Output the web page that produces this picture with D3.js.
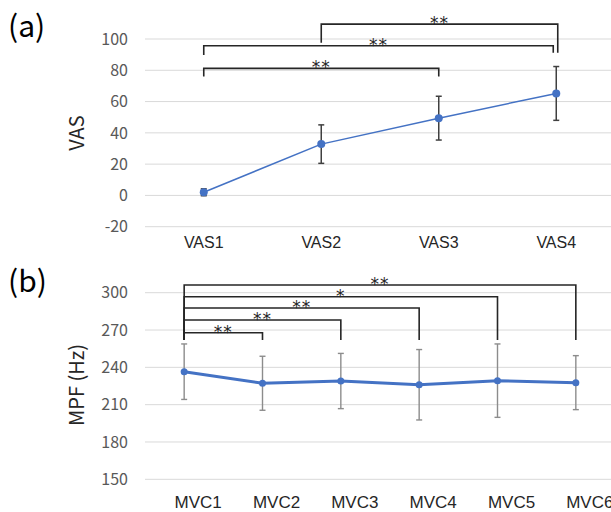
<!DOCTYPE html>
<html lang="ja">
<head>
  <meta charset="UTF-8">
  <title>VAS / MPF</title>
  <script src="https://cdn.jsdelivr.net/npm/d3@7"></script>
  <style>
    html, body { margin: 0; padding: 0; background: #fff; }
    svg { display: block; }
    .tick-label { font-family: "Noto Sans CJK JP", "Noto Sans", sans-serif; font-size: 16px; fill: #595959; }
    .cat-label { font-family: "Liberation Sans", Arial, sans-serif; fill: #262626; }
    .axis-title { font-family: "Noto Sans CJK JP", "Noto Sans", sans-serif; font-size: 20px; fill: #262626; }
    .panel-label { font-family: "Noto Sans CJK JP", "Noto Sans", sans-serif; font-size: 30px; fill: #000; }
    .sig { font-family: "DejaVu Sans", sans-serif; font-size: 17px; fill: #262626; letter-spacing: 1px; }
  </style>
</head>
<body>
<div id="chart"></div>
<script>
  // (a) VAS
  const vasCats = ['VAS1', 'VAS2', 'VAS3', 'VAS4']
  const vasMean = [2, 32.8, 49.4, 65.2]
  const vasSd = [2.2, 12.3, 14, 17.2]
  const vasTicks = [-20, 0, 20, 40, 60, 80, 100]
  // brackets: from / to category index, bar level, leg ends (VAS units), label
  const vasSigFrom = [0, 0, 1]
  const vasSigTo = [2, 3, 3]
  const vasSigLevel = [81.2, 95.7, 109.5]
  const vasSigLegL = [76, 89.7, 97.6]
  const vasSigLegR = [76, 91.2, 91.2]
  const vasSigLabel = ['**', '**', '**']

  // (b) MPF
  const mvcCats = ['MVC1', 'MVC2', 'MVC3', 'MVC4', 'MVC5', 'MVC6']
  const mvcMean = [236.5, 227.2, 229, 226, 229.3, 227.7]
  const mvcSd = [22.3, 21.7, 22.2, 28.3, 29.5, 21.7]
  const mvcTicks = [150, 180, 210, 240, 270, 300]
  const mvcSigFrom = [0, 0, 0, 0, 0]
  const mvcSigTo = [1, 2, 3, 4, 5]
  const mvcSigLevel = [267.8, 278, 287.7, 296.8, 306.2]
  const mvcSigLeg = 262
  const mvcSigLabel = ['**', '**', '**', '*', '**']

  const width = 611, height = 512
  const svg = d3.select('#chart').append('svg')
    .attr('width', width).attr('height', height)

  function panel (opt) {
    const x = d3.scaleBand().domain(opt.cats).range([145, 615]).padding(0)
    const cx = d => x(d) + x.bandwidth() / 2
    const y = d3.scaleLinear().domain(opt.domain).range(opt.range)
    const g = svg.append('g')

    // grid lines
    g.selectAll('.grid').data(opt.ticks).enter().append('line')
      .attr('x1', 145).attr('x2', width)
      .attr('y1', d => y(d)).attr('y2', d => y(d))
      .attr('stroke', '#d9d9d9').attr('stroke-width', 1)

    // y tick labels
    g.selectAll('.tick-label').data(opt.ticks).enter().append('text')
      .attr('class', 'tick-label')
      .attr('x', 128).attr('y', d => y(d)).attr('dy', '0.36em')
      .attr('text-anchor', 'end')
      .text(d => d)

    // x labels
    g.selectAll('.cat-label').data(opt.cats).enter().append('text')
      .attr('class', 'cat-label')
      .attr('x', d => cx(d) + opt.labelDx).attr('y', opt.labelY)
      .attr('text-anchor', 'middle')
      .style('font-size', opt.labelSize + 'px')
      .text(d => d)

    // axis title
    g.append('text').attr('class', 'axis-title')
      .attr('transform', 'translate(' + (opt.titleX) + ',' + opt.titleY + ') rotate(-90)')
      .attr('text-anchor', 'middle').attr('dy', '0.35em')
      .text(opt.title)

    // panel letter
    g.append('text').attr('class', 'panel-label')
      .attr('x', 8).attr('y', opt.panelY)
      .text(opt.panel)

    // error bars
    const eb = g.selectAll('.err').data(opt.cats).enter().append('g')
    eb.append('line')
      .attr('x1', d => cx(d)).attr('x2', d => cx(d))
      .attr('y1', (d, i) => y(opt.mean[i] - opt.sd[i]))
      .attr('y2', (d, i) => y(opt.mean[i] + opt.sd[i]))
      .attr('stroke', opt.errColor).attr('stroke-width', opt.errWidth)
    eb.append('line')
      .attr('x1', d => cx(d) - 3).attr('x2', d => cx(d) + 3)
      .attr('y1', (d, i) => y(opt.mean[i] + opt.sd[i]))
      .attr('y2', (d, i) => y(opt.mean[i] + opt.sd[i]))
      .attr('stroke', opt.errColor).attr('stroke-width', opt.errWidth)
    eb.append('line')
      .attr('x1', d => cx(d) - 3).attr('x2', d => cx(d) + 3)
      .attr('y1', (d, i) => y(opt.mean[i] - opt.sd[i]))
      .attr('y2', (d, i) => y(opt.mean[i] - opt.sd[i]))
      .attr('stroke', opt.errColor).attr('stroke-width', opt.errWidth)

    // line + markers
    const line = d3.line().x(d => cx(d[0])).y(d => y(d[1]))
    g.append('path')
      .datum(opt.cats.map((c, i) => [c, opt.mean[i]]))
      .attr('d', line)
      .attr('fill', 'none').attr('stroke', '#4472c4')
      .attr('stroke-width', opt.lineWidth).attr('stroke-linejoin', 'round')
    g.selectAll('.pt').data(opt.cats).enter().append('circle')
      .attr('cx', d => cx(d)).attr('cy', (d, i) => y(opt.mean[i]))
      .attr('r', opt.r).attr('fill', '#4472c4')

    // significance brackets
    opt.sigFrom.forEach((f, i) => {
      const x1 = cx(opt.cats[f])
      const x2 = cx(opt.cats[opt.sigTo[i]]) + (opt.nudge ? opt.nudge[i] : 0)
      const yl = y(opt.sigLevel[i])
      const path = d3.path()
      path.moveTo(x1, y(opt.sigLegL[i]))
      path.lineTo(x1, yl)
      path.lineTo(x2, yl)
      path.lineTo(x2, y(opt.sigLegR[i]))
      g.append('path').attr('d', path.toString())
        .attr('fill', 'none').attr('stroke', '#262626').attr('stroke-width', 1.6)
      g.append('text').attr('class', 'sig')
        .attr('x', (x1 + x2) / 2).attr('y', yl + 5)
        .attr('text-anchor', 'middle')
        .text(opt.sigLabel[i])
    })
  }

  panel({
    cats: vasCats, mean: vasMean, sd: vasSd, ticks: vasTicks,
    domain: [-20, 100], range: [226.7, 39],
    labelY: 248, labelSize: 16, labelDx: 0,
    title: 'VAS', titleX: 77, titleY: 133,
    panel: '(a)', panelY: 37,
    errColor: '#404040', errWidth: 1.5, lineWidth: 1.5, r: 4,
    sigFrom: vasSigFrom, sigTo: vasSigTo, sigLevel: vasSigLevel,
    sigLegL: vasSigLegL, sigLegR: vasSigLegR, sigLabel: vasSigLabel,
    nudge: [0, -3, 1.5]
  })

  panel({
    cats: mvcCats, mean: mvcMean, sd: mvcSd, ticks: mvcTicks,
    domain: [150, 300], range: [479.3, 292.7],
    labelY: 508, labelSize: 17, labelDx: 14,
    title: 'MPF (Hz)', titleX: 77, titleY: 385,
    panel: '(b)', panelY: 292,
    errColor: '#8c8c8c', errWidth: 1.4, lineWidth: 3, r: 3.5,
    sigFrom: mvcSigFrom, sigTo: mvcSigTo, sigLevel: mvcSigLevel,
    sigLegL: mvcSigTo.map(() => mvcSigLeg), sigLegR: mvcSigTo.map(() => mvcSigLeg),
    sigLabel: mvcSigLabel
  })
</script>
</body>
</html>
